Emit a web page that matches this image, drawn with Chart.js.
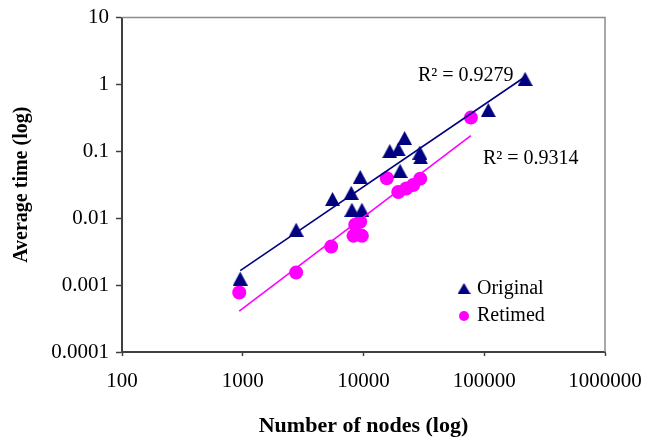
<!DOCTYPE html>
<html><head><meta charset="utf-8">
<script src="https://cdn.jsdelivr.net/npm/chart.js@4"></script>
<style>html,body{margin:0;padding:0;background:#fff}#wrap{width:666px;height:441px;position:relative}</style>
</head><body><div id="wrap"><canvas id="c" width="666" height="441"></canvas></div>
<script>
// ---- data ----
const seriesNames = ['Original', 'Retimed'];
const originalNodes = [953, 2770, 5540, 7910, 9390, 8020, 9700, 16500, 19400, 21900, 29300, 29700, 20100, 108000, 218000];
const originalTime  = [0.00125, 0.00673, 0.0194, 0.0240, 0.0413, 0.0134, 0.0134, 0.101, 0.107, 0.158, 0.0959, 0.0810, 0.0510, 0.414, 1.21];
const retimedNodes  = [935, 2770, 5400, 8270, 9700, 8540, 9390, 15600, 19400, 22600, 25800, 29500, 77500];
const retimedTime   = [0.000776, 0.00154, 0.00376, 0.00545, 0.00545, 0.00798, 0.00883, 0.0396, 0.0247, 0.0278, 0.0313, 0.0390, 0.319];
const xTicks = [100, 1000, 10000, 100000, 1000000];
const xTickLabels = ['100', '1000', '10000', '100000', '1000000'];
const yTicks = [0.0001, 0.001, 0.01, 0.1, 1, 10];
const yTickLabels = ['0.0001', '0.001', '0.01', '0.1', '1', '10'];
const r2Labels = ['R\u00B2 = 0.9279', 'R\u00B2 = 0.9314'];
const xTitle = 'Number of nodes (log)';
const yTitle = 'Average time (log)';

const NAVY = '#000080', PINK = '#FF00FF';
const FONT = 'Liberation Serif';

function pts(xs, ys) { return xs.map((x, i) => ({x: x, y: ys[i]})); }
// power-law trend line (least squares in log-log space), spanning the series' x range
function powerFit(xs, ys) {
  const lx = xs.map(Math.log10), ly = ys.map(Math.log10);
  const n = lx.length;
  const mx = lx.reduce((a, b) => a + b, 0) / n, my = ly.reduce((a, b) => a + b, 0) / n;
  let sxy = 0, sxx = 0;
  for (let i = 0; i < n; i++) { sxy += (lx[i] - mx) * (ly[i] - my); sxx += (lx[i] - mx) ** 2; }
  const b = sxy / sxx, a = my - b * mx;
  const x0 = Math.min(...xs), x1 = Math.max(...xs);
  return [{x: x0, y: Math.pow(10, a + b * Math.log10(x0))}, {x: x1, y: Math.pow(10, a + b * Math.log10(x1))}];
}
function triImg(w, h, color) {
  const c = document.createElement('canvas'); c.width = w; c.height = h;
  const g = c.getContext('2d'); g.fillStyle = color;
  g.beginPath(); g.moveTo(w / 2, 0); g.lineTo(w, h); g.lineTo(0, h); g.closePath(); g.fill();
  return c;
}
const triBig = triImg(15, 14, NAVY);
const triSmall = triImg(13, 11, NAVY);

const framePlugin = {
  id: 'frame',
  beforeDatasetsDraw(chart) {
    const {ctx, chartArea: a} = chart;
    ctx.save(); ctx.strokeStyle = '#8c8c8c'; ctx.lineWidth = 1.5;
    ctx.beginPath(); ctx.moveTo(a.left, a.top); ctx.lineTo(a.right, a.top); ctx.lineTo(a.right, a.bottom); ctx.stroke();
    ctx.restore();
  }
};
const annoPlugin = {
  id: 'anno',
  afterDraw(chart) {
    const ctx = chart.ctx;
    ctx.save();
    ctx.font = '20px "' + FONT + '"'; ctx.fillStyle = '#000'; ctx.textBaseline = 'middle'; ctx.textAlign = 'left';
    ctx.fillText(r2Labels[0], 418, 76);
    ctx.fillText(r2Labels[1], 483, 159);
    // legend
    ctx.drawImage(triSmall, 464 - 6.5, 288.5 - 5.5);
    ctx.fillStyle = PINK; ctx.beginPath(); ctx.arc(464, 316, 5, 0, Math.PI * 2); ctx.fill();
    ctx.fillStyle = '#000';
    ctx.fillText(seriesNames[0], 477, 289);
    ctx.fillText(seriesNames[1], 477, 316);
    ctx.restore();
  }
};

new Chart(document.getElementById('c'), {
  type: 'scatter',
  data: {
    datasets: [
      {label: seriesNames[0], data: pts(originalNodes, originalTime), pointStyle: triBig, pointRadius: 7, backgroundColor: NAVY, borderWidth: 0, order: 3},
      {label: seriesNames[1], data: pts(retimedNodes, retimedTime), pointStyle: 'circle', pointRadius: 7, backgroundColor: PINK, borderColor: PINK, borderWidth: 0, order: 4},
      {label: 'trend ' + seriesNames[0], data: powerFit(originalNodes, originalTime), showLine: true, pointRadius: 0, borderColor: NAVY, borderWidth: 1.6, order: 1},
      {label: 'trend ' + seriesNames[1], data: powerFit(retimedNodes, retimedTime), showLine: true, pointRadius: 0, borderColor: PINK, borderWidth: 1.6, order: 2}
    ]
  },
  options: {
    responsive: false, devicePixelRatio: 1, animation: false,
    layout: {padding: {top: 11, right: 61, bottom: 0, left: 0}},
    plugins: {legend: {display: false}, tooltip: {enabled: false}},
    scales: {
      x: {
        type: 'logarithmic', min: 100, max: 1000000, position: 'bottom',
        afterBuildTicks: s => { s.ticks = xTicks.map(v => ({value: v})); },
        afterFit: s => { s.height = 89; },
        ticks: {callback: (v, i) => xTickLabels[i], font: {family: FONT, size: 21, lineHeight: 1}, color: '#000', padding: 15, maxRotation: 0, autoSkip: false},
        grid: {drawOnChartArea: false, drawTicks: true, tickLength: 4, tickColor: '#404040', tickWidth: 1.5},
        border: {color: '#404040', width: 2},
        title: {display: true, text: xTitle, font: {family: FONT, size: 22, weight: 'bold'}, color: '#000', padding: {top: 0, bottom: 1}}
      },
      y: {
        type: 'logarithmic', min: 0.0001, max: 10, position: 'left',
        afterBuildTicks: s => { s.ticks = yTicks.map(v => ({value: v})); },
        afterFit: s => { s.width = 122; },
        ticks: {callback: (v, i) => yTickLabels[i], font: {family: FONT, size: 21, lineHeight: 1}, color: '#000', padding: 7, autoSkip: false},
        grid: {drawOnChartArea: false, drawTicks: true, tickLength: 6, tickColor: '#404040', tickWidth: 1.5},
        border: {color: '#404040', width: 2},
        title: {display: true, text: yTitle, font: {family: FONT, size: 20, weight: 'bold'}, color: '#000', padding: {top: 10, bottom: 0}}
      }
    }
  },
  plugins: [framePlugin, annoPlugin]
});
</script></body></html>
